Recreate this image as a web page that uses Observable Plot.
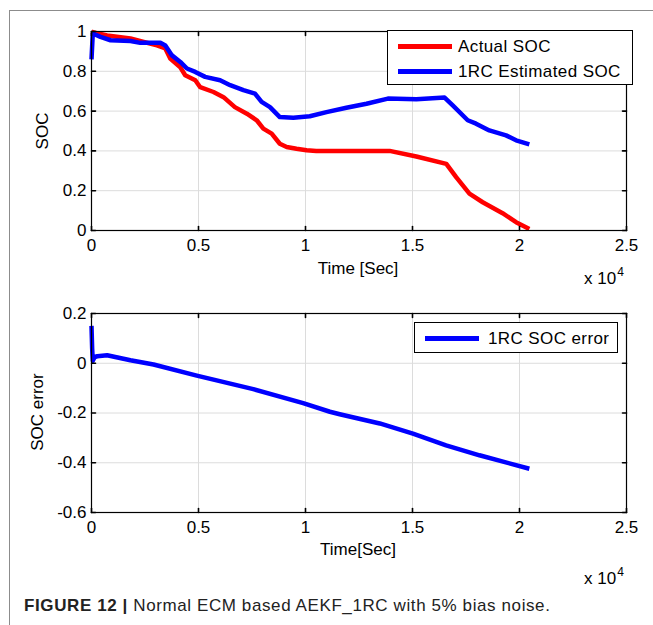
<!DOCTYPE html>
<html><head><meta charset="utf-8">
<script src="https://cdn.jsdelivr.net/npm/d3@7"></script>
<script src="https://cdn.jsdelivr.net/npm/@observablehq/plot@0.6"></script>
<style>
body{margin:0;background:#fff;}
#wrap{position:relative;width:653px;height:625px;overflow:hidden;font-family:"Liberation Sans",Arial,sans-serif;color:#000;background:#fff;}
.abs{position:absolute;white-space:nowrap;line-height:1;}
.frame{position:absolute;left:9px;top:10px;right:-2px;bottom:-2px;border-left:1px solid #8c8c8c;border-top:1px solid #8c8c8c;}
.rot{transform:translate(-50%,-50%) rotate(-90deg);}
.ctr{transform:translate(-50%,-50%);}
.legend{position:absolute;border:1px solid #000;background:#fff;box-sizing:border-box;}
.legend .sw{position:absolute;height:5px;}
.legend .lt{position:absolute;font-size:17px;letter-spacing:0.4px;transform:translateY(-50%);white-space:nowrap;line-height:1;}
.svgbox{position:absolute;left:0;}
</style></head><body><div id="wrap"><div class="frame"></div></div>
<script>
// ---- data (time in seconds) ----
const actualT   = [0, 100, 730, 1820, 3060, 3450, 3680, 4150, 4380, 4850, 5080, 5700, 6170, 6700, 7260, 7720, 8030, 8420, 8800, 9120, 9580, 10050, 10500, 13930, 15180, 16580, 17040, 17660, 18280, 19210, 19840, 20460];
const actualSOC = [1.0, 0.995, 0.98, 0.965, 0.93, 0.915, 0.864, 0.82, 0.78, 0.755, 0.72, 0.696, 0.67, 0.62, 0.587, 0.554, 0.512, 0.487, 0.436, 0.42, 0.411, 0.403, 0.400, 0.400, 0.372, 0.335, 0.268, 0.185, 0.142, 0.087, 0.042, 0.008];

const estT   = [0, 60, 420, 890, 1820, 2280, 3220, 3450, 3760, 4150, 4460, 4850, 5310, 6010, 6480, 7100, 7640, 7950, 8340, 8800, 9430, 10200, 10980, 11910, 12850, 13850, 15180, 16500, 16880, 17580, 17970, 18590, 19370, 19840, 20460];
const estSOC = [0.86, 0.99, 0.973, 0.956, 0.952, 0.943, 0.943, 0.93, 0.88, 0.847, 0.814, 0.797, 0.772, 0.755, 0.73, 0.705, 0.688, 0.646, 0.62, 0.57, 0.567, 0.574, 0.595, 0.617, 0.637, 0.663, 0.66, 0.668, 0.629, 0.554, 0.537, 0.503, 0.478, 0.453, 0.433];

const errT   = [0, 30, 60, 150, 270, 730, 1820, 2900, 4920, 7560, 9890, 11140, 11600, 13470, 15020, 16570, 18130, 20460];
const errSOC = [0.15, 0.06, 0.01, 0.025, 0.028, 0.032, 0.012, -0.005, -0.05, -0.104, -0.16, -0.195, -0.205, -0.242, -0.283, -0.33, -0.37, -0.424];

const xTicks    = [0, 5000, 10000, 15000, 20000, 25000];
const yTicksTop = [0, 0.2, 0.4, 0.6, 0.8, 1];
const yTicksBot = [-0.6, -0.4, -0.2, 0, 0.2];

const legendTop = ["Actual SOC", "1RC Estimated SOC"];
const legendBot = ["1RC SOC error"];
const colors = ["#ff0000", "#0000ff"];

const actual = actualT.map((t, i) => ({t, v: actualSOC[i]}));
const est = estT.map((t, i) => ({t, v: estSOC[i]}));
const err = errT.map((t, i) => ({t, v: errSOC[i]}));

const tickShape = {draw(ctx, l) { ctx.moveTo(0, 0); ctx.lineTo(0, -l); }};
function inTicks(xs, ys) {
  const o = {length: 4, anchor: "start", shape: tickShape, stroke: "#000", strokeWidth: 1.6};
  return [
    Plot.vector(xs, {...o, x: d => d, frameAnchor: "bottom", rotate: 0}),
    Plot.vector(xs, {...o, x: d => d, frameAnchor: "top", rotate: 180}),
    Plot.vector(ys, {...o, y: d => d, frameAnchor: "left", rotate: 90}),
    Plot.vector(ys, {...o, y: d => d, frameAnchor: "right", rotate: -90})
  ];
}
const fmt = d => String(d);

function chart(series, yDomain, yTicks) {
  return Plot.plot({
    width: 653, height: 300,
    marginLeft: 91, marginRight: 27, marginTop: 31, marginBottom: 70,
    style: {fontFamily: "'Liberation Sans', Arial, sans-serif", fontSize: "17px", color: "#000", background: "transparent"},
    x: {domain: [0, 25000]},
    y: {domain: yDomain},
    marks: [
      Plot.gridX(xTicks, {stroke: "#dcdcdc", strokeOpacity: 1, strokeWidth: 1}),
      Plot.gridY(yTicks, {stroke: "#dcdcdc", strokeOpacity: 1, strokeWidth: 1}),
      ...series.map(s => Plot.line(s.data, {x: "t", y: "v", stroke: s.color, strokeWidth: 4.5, strokeLinejoin: "round", strokeLinecap: "butt"})),
      Plot.frame({stroke: "#000", strokeWidth: 1.2}),
      ...inTicks(xTicks, yTicks),
      Plot.axisX(xTicks, {tickSize: 0, tickPadding: 8, tickFormat: d => fmt(d / 1e4), label: null, fontSize: 17}),
      Plot.axisY(yTicks, {tickSize: 0, tickPadding: 5, tickFormat: fmt, label: null, fontSize: 17})
    ]
  });
}

const wrap = document.getElementById("wrap");
function place(el, top) { el.classList.add("svgbox"); el.style.top = top + "px"; wrap.appendChild(el); }
place(chart([{data: actual, color: colors[0]}, {data: est, color: colors[1]}], [0, 1], yTicksTop), 0);
place(chart([{data: err, color: colors[1]}], [-0.6, 0.2], yTicksBot), 282);

function txt(html, cls, left, top, size, extra) {
  const d = document.createElement("div");
  d.className = "abs " + cls;
  d.style.left = left + "px"; d.style.top = top + "px"; d.style.fontSize = size + "px";
  if (extra) Object.assign(d.style, extra);
  d.innerHTML = html;
  wrap.appendChild(d);
  return d;
}
// axis labels
txt("SOC", "rot", 42, 131, 17);
txt("Time [Sec]", "ctr", 358, 268, 17);
txt("x 10<span style='font-size:12px;position:relative;top:-8px;margin-left:1px'>4</span>", "", 584, 270, 17);
txt("SOC error", "rot", 37, 412, 17);
txt("Time[Sec]", "ctr", 358, 549, 17);
txt("x 10<span style='font-size:12px;position:relative;top:-8px;margin-left:1px'>4</span>", "", 584, 570, 17);

// legends
function legend(items, cols, box, swX, txtX, rows) {
  const lg = document.createElement("div");
  lg.className = "legend";
  Object.assign(lg.style, {left: box[0] + "px", top: box[1] + "px", width: box[2] + "px", height: box[3] + "px"});
  items.forEach((name, i) => {
    const sw = document.createElement("div");
    sw.className = "sw";
    Object.assign(sw.style, {left: swX[0] + "px", width: swX[1] + "px", top: (rows[i] - 2.5) + "px", background: cols[i]});
    lg.appendChild(sw);
    const t = document.createElement("div");
    t.className = "lt";
    Object.assign(t.style, {left: txtX + "px", top: rows[i] + "px"});
    t.textContent = name;
    lg.appendChild(t);
  });
  wrap.appendChild(lg);
}
legend(legendTop, colors, [387, 30, 246, 55], [10, 54], 70, [15, 40]);
legend(legendBot, [colors[1]], [414, 322, 204, 31], [10, 54], 73, [15]);

// caption
txt("<b>FIGURE 12 |</b> Normal ECM based AEKF_1RC with 5% bias noise.", "", 24, 597, 17, {color: "#222", letterSpacing: "0.6px"});
</script>
</body></html>
